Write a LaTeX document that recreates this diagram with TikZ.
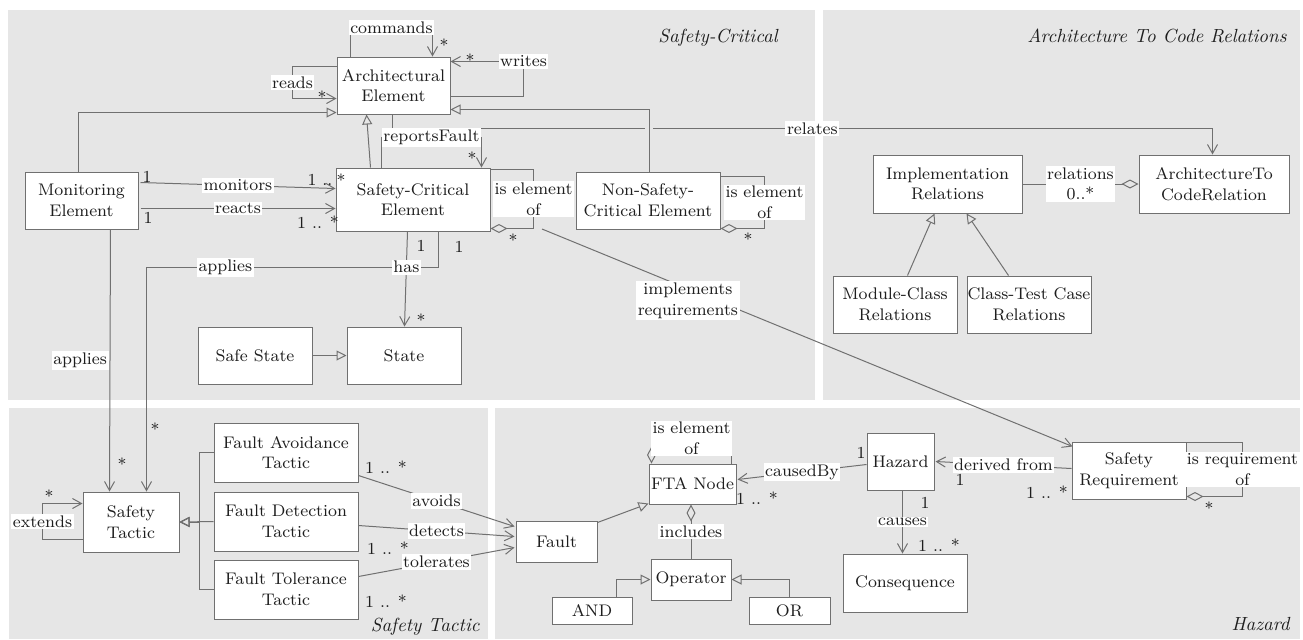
\documentclass[tikz,border=0pt]{standalone}
\usetikzlibrary{arrows.meta,calc}
\definecolor{panelbg}{HTML}{E6E6E6}
\definecolor{ln}{HTML}{707070}
\definecolor{txt}{HTML}{1E1E1E}
\begin{document}
\begin{tikzpicture}[x=0.5pt,y=-0.5pt,
  every node/.style={font=\rmfamily\fontsize{8.4}{10.3}\selectfont, text=txt},
  box/.style={draw=ln, fill=white, line width=0.5pt, inner sep=0pt, align=center},
  lbl/.style={fill=white, inner sep=0.8pt, align=center},
  mult/.style={inner sep=0pt},
  ptitle/.style={font=\rmfamily\fontsize{9.5}{12}\selectfont\itshape, inner sep=0pt},
  panel/.style={fill=panelbg, draw=none},
  conn/.style={draw=ln, line width=0.5pt},
  assoc/.style={conn, -{Straight Barb[length=4.5pt,width=5pt]}},
  gen/.style={conn, -{Triangle[open,length=5pt,width=5pt]}},
  aggs/.style={conn, {Diamond[open,length=8.5pt,width=4.5pt]}-},
  agge/.style={conn, -{Diamond[open,length=8.5pt,width=4.5pt]}},
  gap/.style={draw=panelbg, line width=2pt},
]
\useasboundingbox (0,0) rectangle (1303,639);
% panels
\path[panel] (8,10) rectangle (815,400);
\path[panel] (823,10) rectangle (1300,400);
\path[panel] (9,408) rectangle (488,639);
\path[panel] (495,408) rectangle (1300,639);
\node[ptitle, anchor=east] (t1) at (778,38) {Safety-Critical};
\node[ptitle, anchor=east] (t2) at (1287,36) {Architecture To Code Relations};
\node[ptitle, anchor=east] (t3) at (480,627) {Safety Tactic};
\node[ptitle, anchor=east] (t4) at (1290,624) {Hazard};

% nodes
\node[box, minimum width=56.5pt, minimum height=28.5pt] (ae) at (393.5,85.5) {Architectural\\Element};
\node[box, minimum width=56.5pt, minimum height=28.5pt] (me) at (81.5,200.5) {Monitoring\\Element};
\node[box, minimum width=77pt, minimum height=31.5pt] (sce) at (413,199.5) {Safety-Critical\\Element};
\node[box, minimum width=72pt, minimum height=28.5pt] (nsce) at (648,200.5) {Non-Safety-\\Critical Element};
\node[box, minimum width=57pt, minimum height=28.5pt] (safe) at (255,355.5) {Safe State};
\node[box, minimum width=57pt, minimum height=28.5pt] (state) at (404,355.5) {State};
\node[box, minimum width=74.5pt, minimum height=29pt] (impl) at (947.5,184) {Implementation\\Relations};
\node[box, minimum width=75pt, minimum height=29pt] (atc) at (1214,184) {ArchitectureTo\\CodeRelation};
\node[box, minimum width=62pt, minimum height=28.5pt] (mcr) at (895,304.5) {Module-Class\\Relations};
\node[box, minimum width=62pt, minimum height=28.5pt] (ctr) at (1029,304.5) {Class-Test Case\\Relations};
\node[box, minimum width=48pt, minimum height=30pt] (st) at (131,522) {Safety\\Tactic};
\node[box, minimum width=72pt, minimum height=29.5pt] (fat) at (286,452.5) {Fault Avoidance\\Tactic};
\node[box, minimum width=72pt, minimum height=29.5pt] (fdt) at (286,521.5) {Fault Detection\\Tactic};
\node[box, minimum width=72pt, minimum height=29.5pt] (ftt) at (286,589.5) {Fault Tolerance\\Tactic};
\node[box, minimum width=40.5pt, minimum height=20.5pt] (fault) at (556.5,541.5) {Fault};
\node[box, minimum width=43.5pt, minimum height=20pt] (fta) at (692.5,484) {FTA Node};
\node[box, minimum width=40pt, minimum height=20.5pt] (op) at (691,579.5) {Operator};
\node[box, minimum width=40pt, minimum height=13.5pt] (andn) at (592,610.5) {AND};
\node[box, minimum width=40.5pt, minimum height=13.5pt] (orn) at (789.5,610.5) {OR};
\node[box, minimum width=33.5pt, minimum height=28.5pt] (haz) at (900.5,461.5) {Hazard};
\node[box, minimum width=62pt, minimum height=29pt] (cons) at (905,583) {Consequence};
\node[box, minimum width=57pt, minimum height=28.5pt] (sr) at (1129,470.5) {Safety\\Requirement};

% Architectural element self associations
\draw[assoc] ($(ae.north west)+(14,0)$) -- ++(0,-29) -| ($(ae.north west)+(96,0)$) node[lbl,pos=0.25]{commands};
\node[mult] (m1) at (444,45) {*};
\draw[assoc] ($(ae.north west)+(0,10)$) -- ++(-44,0) |- ($(ae.north west)+(0,42)$) node[lbl,pos=0.25]{reads};
\node[mult] (m2) at (322,97) {*};
\draw[assoc] ($(ae.north east)+(0,40)$) -- ++(73,0) |- ($(ae.north east)+(0,5)$) node[lbl,pos=0.5]{writes};
\node[mult] (m3) at (470,60) {*};

% generalizations to architectural element
\draw[gen] ($(me.north)+(-3,0)$) |- ($(ae.south west)+(0,-2)$);
\draw[gen] ($(sce.north west)+(35,0)$) -- ($(ae.south west)+(30,0)$);
% relates
\draw[assoc] ($(ae.south west)+(56,0)$) -- ++(0,14) -| ($(atc.north west)+(74,0)$) node[lbl,pos=0.256]{relates};
\draw[gap] ($(nsce.north)+(-3,-44)$) -- ($(nsce.north)+(5,-44)$);
\draw[gen] ($(nsce.north)+(1,0)$) |- ($(ae.south east)+(0,-5)$);

% reportsFault
\draw[assoc] ($(sce.north west)+(46,0)$) -- ++(0,-30) -| ($(sce.north west)+(146,0)$) node[lbl,pos=0.25]{reportsFault};
\node[mult] (m4) at (472,158) {*};
% is element of (SCE)
\draw[aggs] ($(sce.south east)+(0,-3)$) -- ++(43,0) |- ($(sce.north east)+(0,2)$) node[lbl,pos=0.25]{is element\\of};
\node[mult] (m5) at (513,240) {*};
% is element of (NSCE)
\draw[aggs] ($(nsce.south east)+(0,-1)$) -- ++(44,0) |- ($(nsce.north east)+(0,5)$) node[lbl,pos=0.25]{is element\\of};
\node[mult] (m6) at (748,239) {*};

% monitors / reacts
\draw[assoc] ($(me.north east)+(2,11)$) -- ($(sce.north west)+(0,21)$) node[lbl,midway]{monitors};
\node[mult] (m7) at (147,177) {1};
\node[mult] (m8) at (320,180) {1 ..};
\node[mult] (m9) at (341,180) {*};
\draw[assoc] ($(me.south east)+(2,-21)$) -- ($(sce.south west)+(0,-23)$) node[lbl,midway]{reacts};
\node[mult] (m10) at (148,218) {1};
\node[mult] (m11) at (318,222) {1 .. *};

% applies
\draw[assoc] ($(me.south west)+(86,0)$) -- ($(st.north west)+(27,0)$) node[lbl,midway,left=0.5pt]{applies};
\node[mult] (m12) at (122,464) {*};
\draw[assoc] ($(sce.south west)+(103,0)$) -- ++(0,36) -| ($(st.north west)+(64,0)$) node[lbl,pos=0.365]{applies};
\node[mult] (m13) at (459,247) {1};
\node[mult] (m14) at (155,429) {*};
% has
\draw[assoc] ($(sce.south west)+(72,0)$) -- ($(state.north west)+(58,0)$) node[lbl,pos=0.375]{has};
\node[mult] (m15) at (421,246) {1};
\node[mult] (m16) at (421,320) {*};
% safe state
\draw[gen] (safe) -- (state);

% implements requirements
\coordinate (impStart) at (542,229);
\draw[assoc] (impStart) -- ($(sr.north west)+(1,5)$) node[lbl,pos=0.275,yshift=-6pt]{implements\\requirements};

% architecture to code
\draw[agge] (impl) -- (atc) node[lbl,midway]{relations\\0..*};
\draw[gen] ($(mcr.north west)+(75,0)$) -- ($(impl.south west)+(62,0)$);
\draw[gen] ($(ctr.north west)+(42,0)$) -- ($(impl.south west)+(94,0)$);

% safety tactic
\draw[assoc] ($(st.south west)+(0,-13)$) -- ++(-40,0) |- ($(st.north west)+(0,12)$) node[lbl,pos=0.25]{extends};
\node[mult] (m17) at (49,496) {*};
\draw[gen] (fat.west) -- ++(-14,0) |- (st.east);
\draw[gen] (fdt.west) -- (st.east);
\draw[gen] (ftt.west) -- ++(-14,0) |- (st.east);

\draw[assoc] ($(fat.south east)+(0,-7)$) -- ($(fault.north west)+(-1,6)$) node[lbl,midway]{avoids};
\node[mult] (m18) at (386,467) {1 .. *};
\draw[assoc] ($(fdt.east)+(0,4)$) -- ($(fault.west)+(-1,-5)$) node[lbl,midway]{detects};
\node[mult] (m19) at (388,548) {1 .. *};
\draw[assoc] ($(ftt.east)+(0,-13)$) -- ($(fault.west)+(-1,6)$) node[lbl,midway]{tolerates};
\node[mult] (m20) at (386,601) {1 .. *};

% hazard package
\draw[gen] ($(fault.north east)+(0,2)$) -- ($(fta.south west)+(0,-1)$);
\draw[aggs] ($(fta.north west)+(3,0)$) -- ++(0,-25) -| ($(fta.north east)+(-5,0)$) node[lbl,pos=0.25]{is element\\of};
\draw[agge] (op.north) -- (op.north |- fta.south) node[lbl,midway]{includes};
\draw[gen] ($(andn.north east)+(-16,0)$) |- (op.west);
\draw[gen] ($(orn.north west)+(41,0)$) |- (op.east);

\draw[assoc] ($(haz.north west)+(0,32)$) -- ($(fta.north east)+(1,16)$) node[lbl,midway]{causedBy};
\node[mult] (m21) at (861,453) {1};
\node[mult] (m22) at (757,498) {1 .. *};
\draw[assoc] ($(sr.north west)+(0,27)$) -- ($(haz.north east)+(1,29)$) node[lbl,midway]{derived from};
\node[mult] (m23) at (960,480) {1};
\node[mult] (m24) at (1047,492) {1 .. *};
\draw[assoc] ($(haz.south west)+(36,0)$) -- ($(cons.north west)+(60,0)$) node[lbl,midway]{causes};
\node[mult] (m25) at (925,503) {1};
\node[mult] (m26) at (939,545) {1 .. *};
\draw[aggs] ($(sr.south east)+(0,-3)$) -- ++(56,0) |- ($(sr.north east)+(0,1)$) node[lbl,pos=0.25]{is requirement\\of};
\node[mult] (m27) at (1209,508) {*};
\end{tikzpicture}
\end{document}
